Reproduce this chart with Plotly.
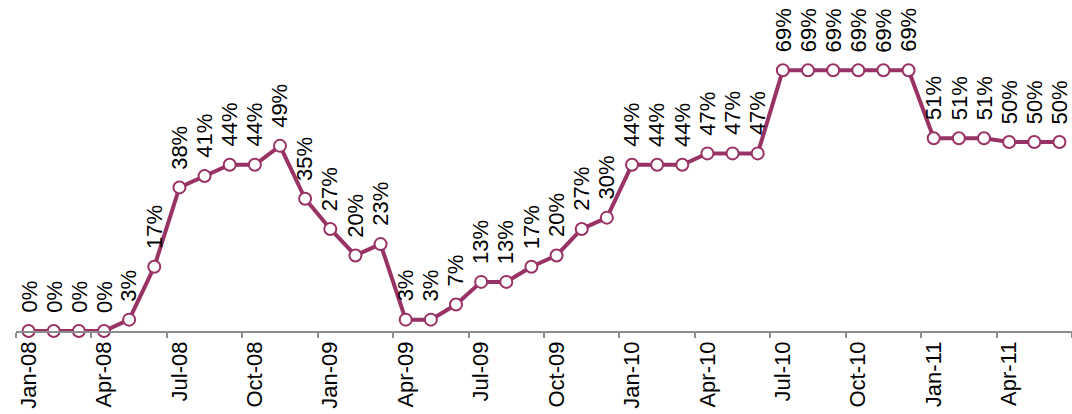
import numpy as np
import plotly.graph_objects as go

# Monthly series, Jan-08 .. Jun-11
months = ["Jan-08", "Feb-08", "Mar-08", "Apr-08", "May-08", "Jun-08",
          "Jul-08", "Aug-08", "Sep-08", "Oct-08", "Nov-08", "Dec-08",
          "Jan-09", "Feb-09", "Mar-09", "Apr-09", "May-09", "Jun-09",
          "Jul-09", "Aug-09", "Sep-09", "Oct-09", "Nov-09", "Dec-09",
          "Jan-10", "Feb-10", "Mar-10", "Apr-10", "May-10", "Jun-10",
          "Jul-10", "Aug-10", "Sep-10", "Oct-10", "Nov-10", "Dec-10",
          "Jan-11", "Feb-11", "Mar-11", "Apr-11", "May-11", "Jun-11"]
values = [0, 0, 0, 0, 3, 17,
          38, 41, 44, 44, 49, 35,
          27, 20, 23, 3, 3, 7,
          13, 13, 17, 20, 27, 30,
          44, 44, 44, 47, 47, 47,
          69, 69, 69, 69, 69, 69,
          51, 51, 51, 50, 50, 50]

# every third month gets a label
label_step = 3

LINE = "#993366"
FONT = "Arial"

n = len(months)
idx = np.arange(n)
xpos = idx + 0.5  # categories sit between the boundary ticks

fig = go.Figure()
fig.add_trace(go.Scatter(
    x=xpos, y=values, mode="lines+markers",
    line=dict(color=LINE, width=4),
    marker=dict(size=12, color="white", line=dict(color=LINE, width=2)),
    cliponaxis=False, hoverinfo="skip", showlegend=False,
))

for xv, v in zip(xpos, values):
    fig.add_annotation(
        x=xv, y=v, text=f"{v}%", showarrow=False, textangle=-90,
        xanchor="center", yanchor="bottom", yshift=16,
        font=dict(family=FONT, size=22, color="black"),
    )

label_idx = idx[::label_step]
fig.update_xaxes(
    range=[0, n],
    tickmode="array",
    tickvals=label_idx + 0.5,
    ticktext=[months[i] for i in label_idx],
    tickangle=-90,
    ticks="",
    tickfont=dict(family=FONT, size=22, color="black"),
    showline=True, linecolor="#8c8c8c", linewidth=1.5,
    showgrid=False, zeroline=False,
    minor=dict(tickmode="array", tickvals=list(range(0, n + 1, label_step)),
               ticks="outside", ticklen=5, tickcolor="#8c8c8c", tickwidth=1.5,
               showgrid=False),
    fixedrange=True,
)
fig.update_yaxes(range=[0, 87.6], visible=False, fixedrange=True)

fig.update_layout(
    width=1072, height=414,
    margin=dict(l=16, r=0, t=0, b=83),
    paper_bgcolor="white", plot_bgcolor="white",
    font=dict(family=FONT),
)

fig.write_html("out.html")
